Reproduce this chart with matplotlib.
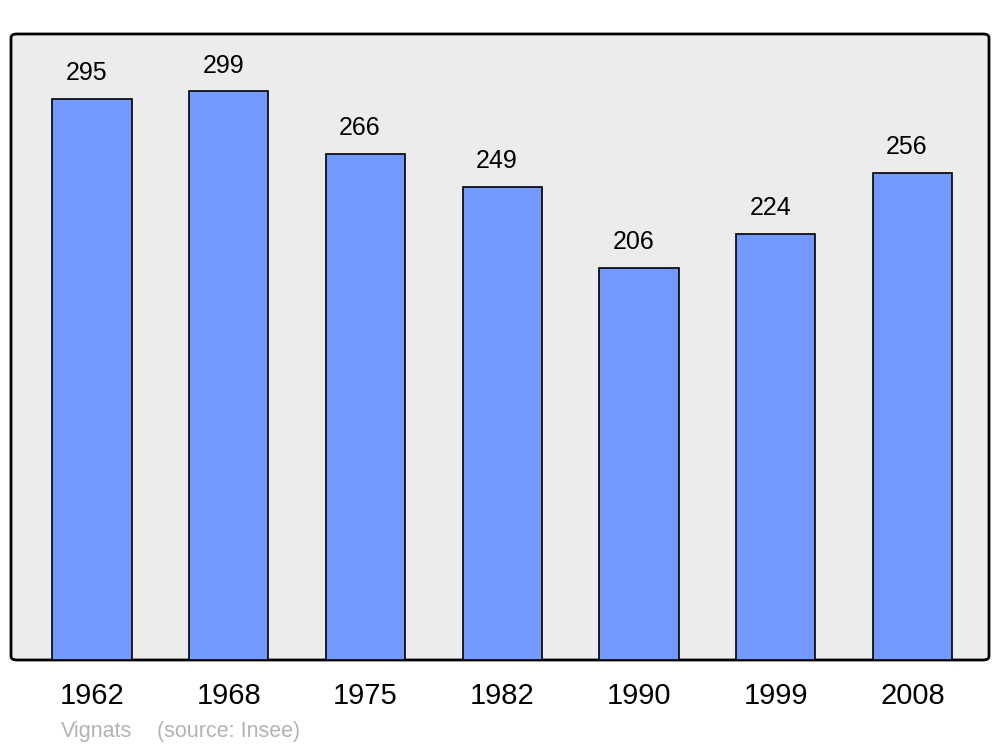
import matplotlib
matplotlib.use('Agg')
import matplotlib.pyplot as plt
from matplotlib.patches import FancyBboxPatch

years = ['1962', '1968', '1975', '1982', '1990', '1999', '2008']
population = [295, 299, 266, 249, 206, 224, 256]

plt.rcParams['font.family'] = ['Liberation Sans', 'DejaVu Sans']

fig = plt.figure(figsize=(10, 7.47), dpi=100)
ax = fig.add_axes([0.011, 1 - 660 / 747, 0.978, (660 - 34) / 747])

# rounded grey frame
frame = FancyBboxPatch((0, 0), 1, 1, boxstyle='round,pad=0,rounding_size=0.006',
                       transform=ax.transAxes, facecolor='#ececec',
                       edgecolor='black', linewidth=2, zorder=0, clip_on=False)
ax.add_patch(frame)
ax.patch.set_visible(False)
for s in ax.spines.values():
    s.set_visible(False)

x = range(len(years))
ax.bar(x, population, width=0.58, color='#7399ff', edgecolor='black',
       linewidth=1.2, zorder=2)
for i, v in enumerate(population):
    ax.annotate(str(v), (i, v), xytext=(-4, 10), textcoords='offset points',
                ha='center', va='bottom', fontsize=18)

ax.set_xlim(-0.592, 6.559)
ax.set_ylim(0, 329.2)
ax.set_yticks([])
ax.set_xticks(list(x))
ax.set_xticklabels(years, fontsize=21)
ax.tick_params(axis='x', length=0, pad=16)

fig.text(0.061, 1 - 732 / 747, 'Vignats', color='#b3b3b3',
         fontsize=15.5, va='center', ha='left')
fig.text(0.157, 1 - 732 / 747, '(source: Insee)', color='#b3b3b3',
         fontsize=15.5, va='center', ha='left')

fig.savefig('out.png', dpi=100)
